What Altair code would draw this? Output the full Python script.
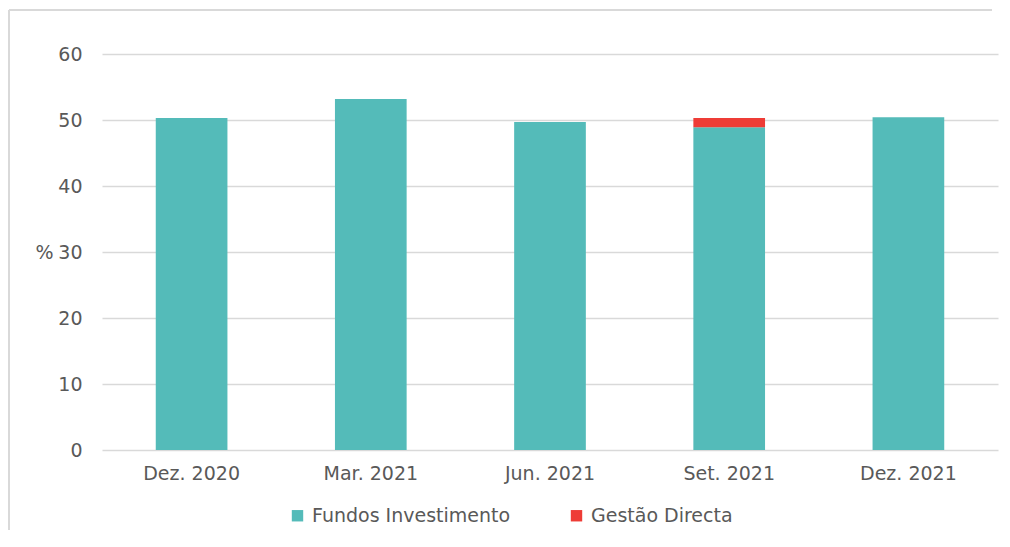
import altair as alt
import pandas as pd

periods = ["Dez. 2020", "Mar. 2021", "Jun. 2021", "Set. 2021", "Dez. 2021"]
fundos = [50.3, 53.2, 49.7, 48.9, 50.4]
gestao = [0.0, 0.0, 0.0, 1.4, 0.0]
series = ["Fundos Investimento", "Gestão Directa"]
colors = ["#54BBB9", "#EE3C36"]

rows = []
for p, f, g in zip(periods, fundos, gestao):
    rows.append({"periodo": p, "serie": series[0], "valor": f, "ordem": 0})
    rows.append({"periodo": p, "serie": series[1], "valor": g, "ordem": 1})
df = pd.DataFrame(rows)

FONT = "DejaVu Sans"
FS = 19
TXT = "#595959"

bars = alt.Chart(df).mark_bar().encode(
    x=alt.X("periodo:N", sort=periods,
            scale=alt.Scale(paddingInner=0.6, paddingOuter=0.3),
            axis=alt.Axis(title=None, labelAngle=0, ticks=False, domain=False,
                          labelPadding=14, labelFontSize=FS, labelColor=TXT,
                          labelFont=FONT, grid=False)),
    y=alt.Y("valor:Q", stack="zero",
            scale=alt.Scale(domain=[0, 60], nice=False),
            axis=alt.Axis(values=[0, 10, 20, 30, 40, 50, 60], title="%",
                          titleAngle=0, titleX=-58, titleY=198, titleBaseline="middle",
                          titleAlign="center", titleFontSize=FS, titleFontWeight="normal",
                          titleColor=TXT, titleFont=FONT,
                          ticks=False, domain=False, labelPadding=20,
                          labelFontSize=FS, labelColor=TXT, labelFont=FONT,
                          gridColor="#D9D9D9", gridWidth=1.5)),
    color=alt.Color("serie:N", sort=series,
                    scale=alt.Scale(domain=series, range=colors),
                    legend=alt.Legend(title=None, orient="none", direction="horizontal",
                                      legendX=186, legendY=452, symbolType="square",
                                      symbolSize=130, symbolStrokeWidth=0,
                                      labelFontSize=FS, labelColor=TXT, labelFont=FONT,
                                      labelLimit=0, columnPadding=56, labelOffset=5)),
    order=alt.Order("ordem:Q"),
)

frame_left = alt.Chart(df).mark_rule(color="#D9D9D9", strokeWidth=2, clip=False).encode(
    x=alt.value(-93), y=alt.value(-44), y2=alt.value(500)
)
frame_top = alt.Chart(df).mark_rule(color="#D9D9D9", strokeWidth=2, clip=False).encode(
    x=alt.value(-93), x2=alt.value(890), y=alt.value(-44)
)

chart = alt.layer(frame_left, frame_top, bars).properties(
    width=896, height=396,
    autosize=alt.AutoSizeParams(type="none"),
    padding={"left": 94, "top": 46, "right": 4, "bottom": 80},
).configure_view(stroke=None)

chart.save("out.html", embed_options={"renderer": "svg", "actions": False})
